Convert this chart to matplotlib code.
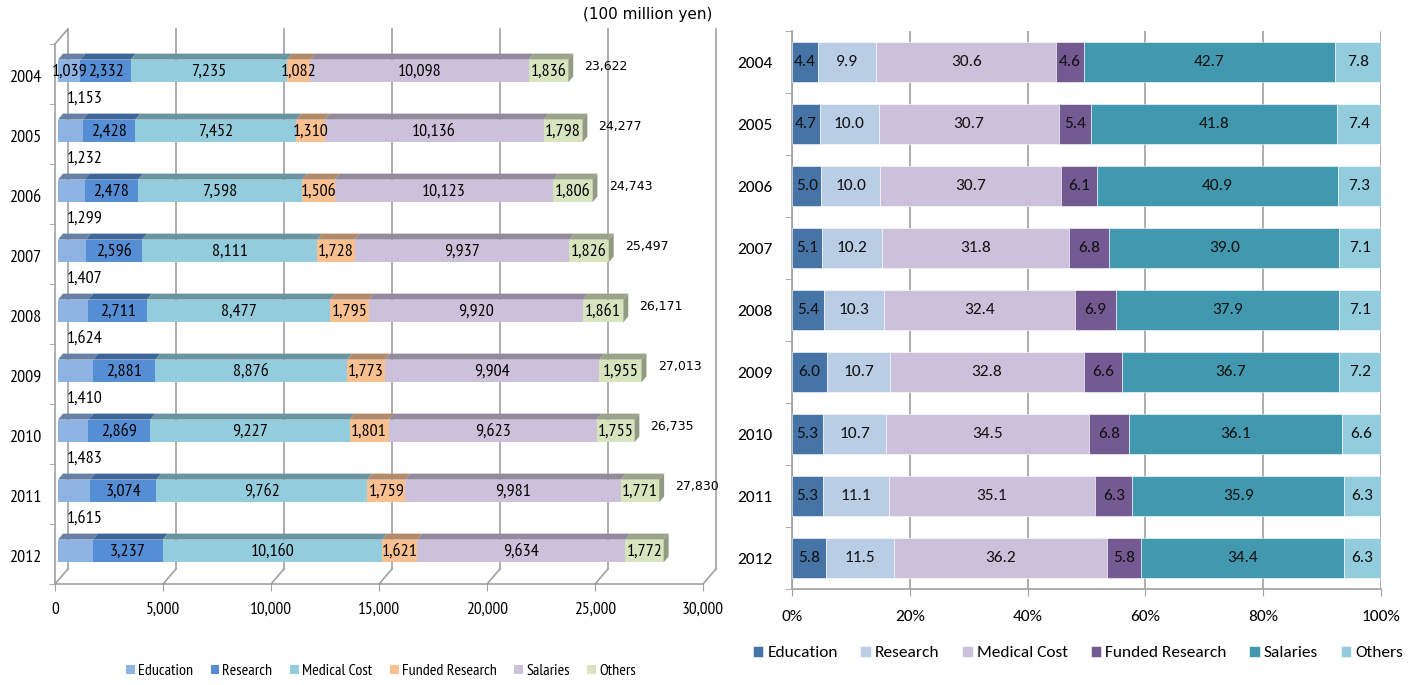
import numpy as np
import matplotlib.pyplot as plt
from matplotlib.patches import Polygon
from matplotlib.colors import to_rgb

# ---- data (100 million yen) ----
years = ['2004', '2005', '2006', '2007', '2008', '2009', '2010', '2011', '2012']
categories = ['Education', 'Research', 'Medical Cost', 'Funded Research', 'Salaries', 'Others']
education = [1039, 1153, 1232, 1299, 1407, 1624, 1410, 1483, 1615]
research = [2332, 2428, 2478, 2596, 2711, 2881, 2869, 3074, 3237]
medical = [7235, 7452, 7598, 8111, 8477, 8876, 9227, 9762, 10160]
funded = [1082, 1310, 1506, 1728, 1795, 1773, 1801, 1759, 1621]
salaries = [10098, 10136, 10123, 9937, 9920, 9904, 9623, 9981, 9634]
others = [1836, 1798, 1806, 1826, 1861, 1955, 1755, 1771, 1772]
totals = [23622, 24277, 24743, 25497, 26171, 27013, 26735, 27830]  # 2012 total not labelled

# ---- shares (%) ----
pct_edu = [4.4, 4.7, 5.0, 5.1, 5.4, 6.0, 5.3, 5.3, 5.8]
pct_res = [9.9, 10.0, 10.0, 10.2, 10.3, 10.7, 10.7, 11.1, 11.5]
pct_med = [30.6, 30.7, 30.7, 31.8, 32.4, 32.8, 34.5, 35.1, 36.2]
pct_fund = [4.6, 5.4, 6.1, 6.8, 6.9, 6.6, 6.8, 6.3, 5.8]
pct_sal = [42.7, 41.8, 40.9, 39.0, 37.9, 36.7, 36.1, 35.9, 34.4]
pct_oth = [7.8, 7.4, 7.3, 7.1, 7.1, 7.2, 6.6, 6.3, 6.3]

left_colors = ['#8DB3E2', '#558ED5', '#93CDDD', '#FAC090', '#CCC1DA', '#D7E4BD']
right_colors = ['#4674A7', '#B9CDE5', '#CCC1DA', '#745A92', '#4198AF', '#93CDDD']
grid_c = '#A0A0A0'

narrow = ['PT Sans Narrow', 'DejaVu Sans']
sans = ['Carlito', 'DejaVu Sans']
verd = ['DejaVu Sans']


def shade(c, f):
    r, g, b = to_rgb(c)
    return (r * f, g * f, b * f)


W, H = 1410, 685
fig = plt.figure(figsize=(W / 100, H / 100), dpi=100)


def px_axes(l, t, r, b):
    return fig.add_axes([l / W, 1 - b / H, (r - l) / W, (b - t) / H])


# ================= left: pseudo 3D stacked bars =================
ax1 = px_axes(55, 44, 703, 584)
ax1.set_xlim(0, 30000)
ax1.set_ylim(8.55, -0.45)
y = np.arange(len(years))

for s in ['top', 'right']:
    ax1.spines[s].set_visible(False)
for s in ['left', 'bottom']:
    ax1.spines[s].set_color(grid_c)
    ax1.spines[s].set_linewidth(1.2)

dx, dy = 600, -0.25  # back wall offset
for v in range(0, 30001, 5000):
    ax1.plot([v, v + dx], [8.55, 8.55 + dy], color=grid_c, lw=1.2, clip_on=False, zorder=1)
    ax1.plot([v + dx, v + dx], [8.55 + dy, -0.45 + dy], color=grid_c, lw=1.2, clip_on=False, zorder=1)
ax1.plot([0, dx], [-0.45, -0.45 + dy], color=grid_c, lw=1.2, clip_on=False, zorder=1)

bx, bh = 140, 0.38  # bar front offset, front face height
ddx, ddy = 230, -0.1  # bar depth
series = [education, research, medical, funded, salaries, others]
left = np.zeros(len(years))
for j, vals in enumerate(series):
    vals = np.array(vals, dtype=float)
    ax1.barh(y, vals, left=left + bx, height=bh, color=left_colors[j], zorder=3,
             label=categories[j])
    top_c = shade(left_colors[j], 0.72)
    for i in range(len(years)):
        x0 = left[i] + bx
        x1 = x0 + vals[i]
        yt = y[i] - bh / 2
        yb = y[i] + bh / 2
        ax1.add_patch(Polygon([(x0, yt), (x1, yt), (x1 + ddx, yt + ddy), (x0 + ddx, yt + ddy)],
                              closed=True, fc=top_c, ec='none', zorder=3))
        if j == len(series) - 1:
            ax1.add_patch(Polygon([(x1, yt), (x1 + ddx, yt + ddy), (x1 + ddx, yb + ddy), (x1, yb)],
                                  closed=True, fc=shade(left_colors[j], 0.68), ec='none', zorder=3))
        if j > 0 or i == 0:
            ax1.text(x0 + vals[i] / 2, y[i] + 0.02, f'{int(vals[i]):,}', ha='center', va='center',
                     fontsize=13, family=narrow, zorder=4)
        else:
            ax1.text(1390, y[i] - 0.53, f'{int(vals[i]):,}', ha='center', va='center',
                     fontsize=13, family=narrow, zorder=4)
    left += vals

for i, t in enumerate(totals):
    ax1.text(left[i] + bx + 750, y[i] - 0.08, f'{t:,}', ha='left', va='center',
             fontsize=9, family=verd)

ax1.set_xticks(range(0, 30001, 5000))
ax1.set_xticklabels([f'{v:,}' for v in range(0, 30001, 5000)], family=narrow, fontsize=12.5)
ax1.tick_params(axis='x', direction='out', length=5, color=grid_c, pad=8)
ax1.set_yticks(y + 0.08)
ax1.set_yticklabels(years, family=narrow, fontsize=13)
ax1.set_yticks(np.arange(-0.45, 8.6, 1.0), minor=True)
ax1.tick_params(axis='y', which='major', length=0, pad=10)
ax1.tick_params(axis='y', which='minor', length=4, color=grid_c)

fig.text(712 / W, 1 - 14 / H, '(100 million yen)', ha='right', va='center', fontsize=11,
         family=verd)

h1, l1 = ax1.get_legend_handles_labels()
fig.legend(h1, l1, loc='center', bbox_to_anchor=(381 / W, 1 - 671 / H), ncol=6, frameon=False,
           prop={'family': narrow, 'size': 11.5}, handlelength=0.55, handleheight=0.55,
           handletextpad=0.2, columnspacing=1.1)

# ================= right: 100% stacked bars =================
ax2 = px_axes(792, 31, 1381, 589)
pct_series = [pct_edu, pct_res, pct_med, pct_fund, pct_sal, pct_oth]
left = np.zeros(len(years))
for j, vals in enumerate(pct_series):
    vals = np.array(vals)
    ax2.barh(y, vals, left=left, height=0.645, color=right_colors[j], zorder=3,
             edgecolor='white', linewidth=0.4, label=categories[j])
    for i in range(len(years)):
        ax2.text(left[i] + vals[i] / 2, y[i], f'{vals[i]:.1f}', ha='center', va='center',
                 fontsize=12.5, family=sans, color='#111111', zorder=4)
    left += vals

ax2.set_xlim(0, 100)
ax2.set_ylim(8.5, -0.5)
ax2.grid(axis='x', color=grid_c, lw=1.2, zorder=0)
ax2.set_axisbelow(True)
for s in ['top', 'right']:
    ax2.spines[s].set_visible(False)
for s in ['left', 'bottom']:
    ax2.spines[s].set_color(grid_c)
    ax2.spines[s].set_linewidth(1.2)
ax2.set_xticks(range(0, 101, 20))
ax2.set_xticklabels([f'{v}%' for v in range(0, 101, 20)], family=sans, fontsize=12.5)
ax2.tick_params(axis='x', direction='out', length=5, color=grid_c, pad=10)
ax2.set_yticks(y)
ax2.set_yticklabels(years, family=sans, fontsize=12.5)
ax2.set_yticks(np.arange(-0.5, 8.6, 1.0), minor=True)
ax2.tick_params(axis='y', which='major', length=0, pad=14)
ax2.tick_params(axis='y', which='minor', length=5, color=grid_c)

h2, l2 = ax2.get_legend_handles_labels()
fig.legend(h2, l2, loc='center', bbox_to_anchor=(1078 / W, 1 - 653 / H), ncol=6, frameon=False,
           prop={'family': sans, 'size': 12.5}, handlelength=0.6, handleheight=0.6,
           handletextpad=0.25, columnspacing=1.3)

fig.savefig('out.png', dpi=100)
